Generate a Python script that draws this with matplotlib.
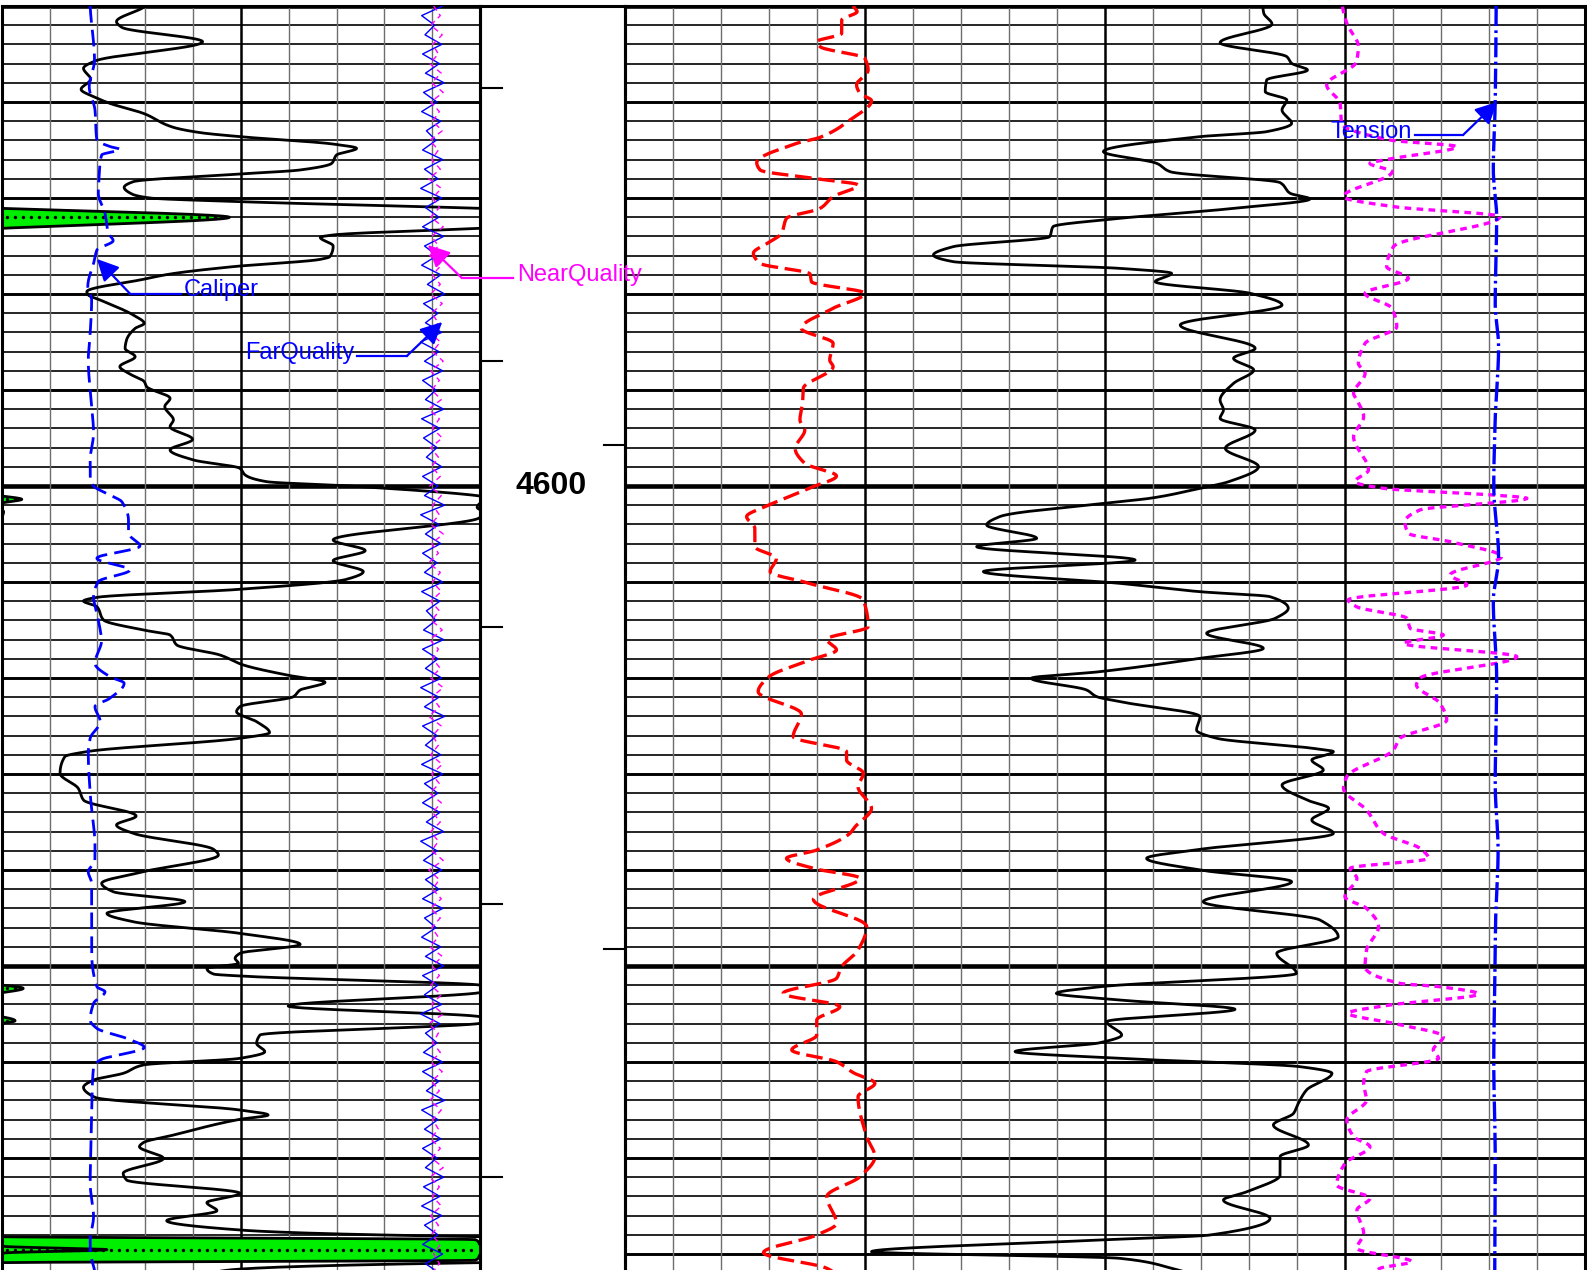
import numpy as np
import matplotlib
matplotlib.use('Agg')
import matplotlib.pyplot as plt

plt.rcParams['font.family'] = ['Liberation Sans', 'DejaVu Sans']

TOP = 4550.0
BOTTOM = 4550.0 + 1264 / 9.6

# ---------------- Left track: GR (0-100, wraps), Caliper (6-16 in), Quality (0-10)
gr_depth = [4550.00, 4551.63, 4552.22, 4553.72, 4555.73, 4556.49, 4557.64, 4558.68, 4559.51, 4560.14,
            4561.18, 4562.64, 4563.19, 4563.61, 4564.38, 4564.83, 4565.52, 4566.39, 4567.08, 4567.50,
            4568.30, 4568.89, 4569.58, 4570.00, 4570.38, 4571.08, 4572.01, 4573.16, 4573.85, 4574.10,
            4575.00, 4576.11, 4576.39, 4577.15, 4577.92, 4578.47, 4579.76, 4580.10, 4580.63, 4582.19,
            4583.06, 4583.58, 4584.79, 4585.66, 4586.53, 4587.57, 4588.26, 4589.13, 4589.65, 4590.87,
            4591.73, 4593.12, 4593.82, 4595.14, 4596.25, 4597.29, 4598.16, 4598.85, 4599.55, 4600.00,
            4601.04, 4601.39, 4601.80, 4602.22, 4602.67, 4603.26, 4605.62, 4606.73, 4607.78, 4608.92,
            4609.72, 4610.76, 4611.60, 4611.98, 4612.57, 4613.96, 4615.00, 4615.52, 4616.56, 4617.60,
            4618.64, 4619.69, 4620.45, 4621.25, 4621.94, 4622.98, 4623.51, 4624.55, 4625.69, 4626.28,
            4627.67, 4628.19, 4629.93, 4631.49, 4632.71, 4634.38, 4635.31, 4636.18, 4637.85, 4638.44,
            4640.18, 4641.39, 4642.26, 4643.30, 4644.52, 4645.39, 4646.60, 4647.75, 4648.68, 4649.20,
            4649.73, 4650.25, 4650.84, 4651.04, 4651.98, 4652.33, 4652.78, 4654.17, 4655.28, 4655.70,
            4655.98, 4657.19, 4658.06, 4658.93, 4659.62, 4660.31, 4661.18, 4661.88, 4662.64, 4663.68,
            4665.00, 4665.52, 4665.97, 4667.61, 4668.40, 4668.82, 4670.04, 4671.60, 4672.29, 4673.68,
            4674.65, 4675.49, 4676.53, 4677.50, 4678.20, 4678.50, 4679.20, 4679.55, 4679.90, 4680.65,
            4680.90, 4681.70, 4682.50]
gr = [30.0, 24.0, 25.1, 42.0, 19.5, 17.1, 18.6, 16.6, 19.5, 22.6,
      29.6, 35.9, 41.5, 49.8, 69.3, 74.2, 70.0, 69.0, 62.4, 49.8,
      27.5, 25.6, 27.2, 31.0, 49.8, 100.0, 147.6, 100.0, 69.3, 66.6,
      69.3, 68.6, 66.6, 48.4, 35.2, 29.6, 17.8, 18.1, 20.6, 27.5,
      29.8, 27.9, 26.1, 25.8, 27.9, 24.7, 26.5, 29.8, 30.3, 35.2,
      34.1, 35.9, 35.2, 39.9, 35.2, 40.1, 49.8, 50.9, 55.4, 72.8,
      100.0, 104.2, 100.0, 99.4, 100.4, 100.0, 69.3, 76.0, 69.3, 75.6,
      72.1, 49.8, 19.9, 17.1, 19.9, 21.3, 29.6, 35.2, 36.6, 45.6,
      50.5, 59.6, 67.6, 62.4, 61.0, 49.8, 49.1, 53.3, 56.0, 49.8,
      17.8, 13.2, 12.2, 16.0, 17.1, 28.1, 24.0, 27.5, 44.3, 45.3,
      29.6, 20.9, 23.3, 38.3, 22.0, 27.5, 49.8, 62.4, 49.8, 48.8,
      49.5, 42.9, 44.3, 49.8, 100.0, 104.5, 100.0, 59.9, 100.0, 102.8,
      100.0, 54.0, 53.3, 55.0, 49.8, 29.6, 25.4, 19.2, 17.1, 19.5,
      49.8, 55.7, 49.8, 35.9, 29.6, 28.8, 33.8, 25.4, 26.1, 49.8,
      42.9, 45.0, 34.5, 49.8, 100.0, 199.0, 200.5, 222.0, 200.5, 199.0,
      100.0, 47.0, 40.0]

cali_depth = [4550.00, 4555.63, 4558.40, 4560.83, 4563.96, 4564.65, 4564.93, 4565.52, 4567.43, 4569.51,
              4571.60, 4573.68, 4574.44, 4575.42, 4576.46, 4579.24, 4580.63, 4584.10, 4586.88, 4590.69,
              4594.51, 4597.29, 4599.37, 4600.00, 4600.94, 4601.63, 4603.54, 4604.93, 4606.25, 4607.53,
              4608.75, 4609.96, 4611.53, 4613.26, 4615.00, 4616.04, 4618.47, 4619.86, 4620.55, 4622.12,
              4622.98, 4624.55, 4626.28, 4627.85, 4632.01, 4637.57, 4638.96, 4640.18, 4641.39, 4648.34,
              4652.16, 4652.68, 4653.89, 4655.63, 4656.50, 4657.54, 4658.48, 4659.79, 4660.49, 4665.70,
              4672.64, 4676.11, 4678.54, 4679.59, 4682.00]
cali = [7.85, 7.94, 7.83, 7.95, 7.99, 8.27, 8.47, 8.09, 8.04, 8.02,
        8.16, 8.23, 8.33, 7.99, 7.94, 7.80, 7.88, 7.85, 7.81, 7.86,
        7.92, 7.85, 7.85, 7.92, 8.26, 8.51, 8.65, 8.65, 8.89, 7.99,
        8.68, 8.02, 7.92, 7.99, 8.06, 8.09, 7.95, 8.26, 8.56, 8.26,
        7.95, 8.06, 7.85, 7.81, 7.85, 7.95, 7.95, 7.81, 7.88, 7.88,
        7.99, 8.16, 7.92, 7.85, 7.99, 8.61, 8.98, 8.06, 7.92, 7.88,
        7.85, 7.92, 7.85, 7.85, 7.95]

qual_depth = list(range(4550, 4683))
far_quality = [9.22, 8.78, 9.05, 8.85, 9.20, 8.80, 9.15, 8.86, 9.25, 8.82,
               9.10, 8.78, 9.18, 8.88, 9.08, 8.80, 9.22, 8.84, 9.12, 8.76,
               9.20, 8.86, 9.14, 8.80, 9.24, 8.84, 9.10, 8.78, 9.18, 8.90,
               9.26, 8.82, 9.12, 8.86, 9.20, 8.76, 9.14, 8.84, 9.22, 8.80,
               9.08, 8.86, 9.24, 8.78, 9.16, 8.82, 9.10, 8.88, 9.20, 8.80,
               9.12, 8.84, 9.26, 8.76, 9.14, 8.86, 9.18, 8.80, 9.10, 8.84,
               9.22, 8.78, 9.16, 8.88, 9.08, 8.82, 9.24, 8.80, 9.12, 8.86,
               9.20, 8.76, 9.14, 8.84, 9.26, 8.80, 9.10, 8.86, 9.18, 8.78,
               9.22, 8.84, 9.12, 8.80, 9.16, 8.88, 9.24, 8.76, 9.10, 8.82,
               9.20, 8.86, 9.14, 8.80, 9.22, 8.84, 9.08, 8.78, 9.18, 8.86,
               9.24, 8.80, 9.12, 8.84, 9.20, 8.76, 9.16, 8.86, 9.10, 8.82,
               9.22, 8.80, 9.14, 8.88, 9.26, 8.78, 9.12, 8.84, 9.18, 8.80,
               9.10, 8.86, 9.24, 8.82, 9.16, 8.78, 9.20, 8.84, 9.12, 8.80,
               9.22, 8.86, 9.15]
near_quality = [9.00, 9.14, 8.94, 9.18, 8.98, 9.10, 8.92, 9.16, 8.96, 9.20,
                8.94, 9.12, 8.98, 9.18, 8.92, 9.10, 8.96, 9.14, 8.90, 9.16,
                8.98, 9.12, 8.94, 9.20, 8.96, 9.10, 8.92, 9.16, 8.98, 9.14,
                8.94, 9.18, 8.96, 9.10, 8.92, 9.14, 8.98, 9.20, 8.94, 9.12,
                8.96, 9.16, 8.90, 9.12, 8.98, 9.18, 8.94, 9.10, 8.96, 9.14,
                8.92, 9.16, 8.98, 9.12, 8.94, 9.20, 8.96, 9.10, 8.90, 9.14,
                8.98, 9.16, 8.94, 9.12, 8.96, 9.18, 8.92, 9.10, 8.98, 9.14,
                8.94, 9.20, 8.96, 9.12, 8.90, 9.16, 8.98, 9.10, 8.94, 9.18,
                8.96, 9.12, 8.92, 9.16, 8.98, 9.14, 8.94, 9.10, 8.96, 9.20,
                8.90, 9.12, 8.98, 9.16, 8.94, 9.14, 8.96, 9.10, 8.92, 9.18,
                8.98, 9.12, 8.94, 9.16, 8.96, 9.20, 8.90, 9.10, 8.98, 9.14,
                8.94, 9.18, 8.96, 9.12, 8.92, 9.16, 8.98, 9.10, 8.94, 9.14,
                8.96, 9.20, 8.92, 9.12, 8.98, 9.16, 8.94, 9.10, 8.96, 9.14,
                9.00, 9.12, 8.96]

# ---------------- Right track (0-200 scale)
red_depth = [4550.00, 4550.59, 4551.46, 4552.85, 4553.72, 4554.24, 4555.45, 4556.67, 4558.23, 4559.10,
             4559.86, 4561.88, 4563.68, 4564.31, 4566.32, 4567.08, 4567.95, 4568.65, 4569.86, 4571.08,
             4572.12, 4573.68, 4574.55, 4575.76, 4576.81, 4577.92, 4578.72, 4579.93, 4581.49, 4583.58,
             4585.14, 4586.88, 4587.57, 4589.83, 4591.04, 4593.12, 4594.17, 4596.08, 4597.64, 4598.96,
             4600.14, 4602.08, 4603.19, 4604.41, 4606.32, 4607.53, 4608.92, 4610.07, 4611.87, 4614.65,
             4615.97, 4617.08, 4618.12, 4619.93, 4621.42, 4623.75, 4626.11, 4627.67, 4628.54, 4629.93,
             4631.32, 4633.58, 4635.49, 4636.18, 4637.92, 4638.79, 4639.83, 4640.87, 4643.06, 4645.91,
             4648.34, 4650.07, 4651.29, 4652.85, 4654.24, 4655.63, 4657.19, 4658.75, 4659.97, 4661.11,
             4662.22, 4663.61, 4667.78, 4669.86, 4671.95, 4674.03, 4676.81, 4678.02, 4679.86, 4681.49,
             4682.50]
red = [47.6, 48.4, 45.2, 45.2, 40.0, 40.7, 50.0, 50.7, 48.3, 49.0,
       51.4, 46.9, 40.7, 35.8, 27.5, 28.2, 39.3, 48.6, 43.4, 40.7,
       33.7, 32.7, 30.3, 26.8, 28.2, 38.6, 38.9, 50.0, 43.4, 36.8,
       43.4, 42.7, 43.4, 37.2, 37.1, 36.5, 37.5, 35.5, 37.5, 44.1,
       38.9, 29.6, 25.4, 27.1, 27.1, 31.6, 30.3, 37.9, 49.7, 50.7,
       42.1, 44.1, 38.6, 29.9, 27.8, 36.8, 35.1, 46.2, 46.2, 49.7,
       48.6, 51.4, 48.0, 46.9, 40.0, 33.7, 39.3, 49.0, 39.3, 50.4,
       48.6, 45.2, 44.1, 33.0, 44.8, 40.0, 40.0, 34.8, 44.1, 47.6,
       52.1, 48.6, 50.4, 52.1, 49.0, 42.1, 44.1, 40.0, 28.9, 42.1,
       45.0]

blk_depth = [4550.07, 4550.76, 4551.88, 4553.82, 4555.28, 4555.97, 4556.67, 4557.71, 4558.92, 4559.79,
             4560.83, 4562.22, 4563.09, 4563.61, 4565.17, 4566.39, 4567.26, 4568.40, 4569.51, 4570.10,
             4571.08, 4572.12, 4572.99, 4574.03, 4575.07, 4575.94, 4576.63, 4577.33, 4577.85, 4578.72,
             4579.93, 4581.15, 4583.23, 4585.66, 4586.70, 4587.92, 4589.31, 4591.04, 4592.08, 4592.95,
             4594.17, 4596.08, 4597.99, 4599.55, 4600.24, 4601.28, 4601.63, 4603.19, 4604.06, 4605.45,
             4606.32, 4607.71, 4608.92, 4610.14, 4611.01, 4611.53, 4612.74, 4613.78, 4615.35, 4616.91,
             4617.95, 4619.34, 4620.03, 4621.25, 4621.94, 4622.46, 4624.03, 4625.42, 4626.28, 4627.33,
             4627.67, 4628.54, 4629.58, 4631.15, 4632.71, 4633.58, 4634.79, 4636.18, 4637.85, 4638.79,
             4640.00, 4641.22, 4643.30, 4645.21, 4646.95, 4648.68, 4650.77, 4652.16, 4652.85, 4653.54,
             4654.51, 4655.80, 4657.19, 4657.99, 4658.92, 4659.62, 4660.49, 4661.18, 4662.92, 4664.31,
             4665.35, 4666.56, 4668.65, 4669.86, 4671.77, 4673.51, 4674.38, 4676.29, 4678.02, 4678.54,
             4679.76, 4680.45, 4681.49, 4682.50]
blk = [132.9, 133.1, 134.8, 124.0, 137.9, 138.9, 142.2, 133.7, 133.4, 137.9,
       136.9, 138.9, 133.7, 119.8, 99.7, 110.8, 113.6, 136.5, 138.6, 142.7,
       126.8, 103.1, 89.2, 88.5, 68.4, 64.3, 68.4, 103.1, 113.9, 110.5,
       130.3, 136.9, 115.7, 131.3, 126.8, 131.0, 126.8, 124.0, 124.7, 124.0,
       131.3, 125.1, 132.0, 125.8, 119.8, 109.4, 103.1, 78.1, 75.4, 85.8,
       73.3, 106.3, 74.7, 103.1, 119.8, 134.4, 138.2, 135.5, 121.2, 133.0,
       119.8, 99.0, 84.7, 96.2, 98.3, 103.1, 119.8, 119.1, 123.3, 143.4,
       147.6, 143.1, 145.5, 136.9, 142.1, 146.6, 143.1, 147.6, 119.8, 108.7,
       119.8, 138.9, 120.5, 144.8, 148.6, 135.8, 139.9, 99.0, 89.9, 103.1,
       127.1, 100.4, 103.5, 99.0, 81.3, 103.1, 140.7, 147.3, 142.0, 140.3,
       139.3, 135.1, 142.4, 136.5, 136.5, 129.6, 124.7, 134.4, 121.9, 99.0,
       51.4, 103.1, 113.9, 120.0]

mag_depth = [4550.07, 4551.81, 4554.24, 4555.80, 4558.23, 4560.14, 4562.22, 4563.96, 4564.65, 4565.87,
             4566.39, 4567.26, 4569.86, 4570.90, 4571.94, 4575.07, 4577.15, 4578.37, 4579.93, 4581.49,
             4583.40, 4585.14, 4587.22, 4588.26, 4590.35, 4591.04, 4592.78, 4594.86, 4598.33, 4599.55,
             4600.24, 4600.94, 4601.28, 4602.50, 4603.71, 4604.93, 4605.80, 4607.36, 4609.27, 4610.31,
             4611.87, 4612.57, 4613.78, 4614.83, 4615.52, 4616.39, 4617.78, 4620.03, 4620.73, 4622.64,
             4624.38, 4626.28, 4627.50, 4630.28, 4631.49, 4633.75, 4636.18, 4637.74, 4638.79, 4639.83,
             4640.87, 4642.78, 4644.00, 4645.91, 4648.34, 4650.07, 4651.81, 4652.16, 4652.92, 4654.06,
             4654.93, 4655.97, 4657.36, 4658.75, 4659.62, 4661.01, 4662.22, 4663.96, 4666.04, 4667.78,
             4668.82, 4670.56, 4672.81, 4674.20, 4675.42, 4677.85, 4679.41, 4680.80, 4681.49, 4682.50]
mag = [149.5, 150.4, 152.8, 152.4, 146.2, 149.0, 149.3, 159.4, 173.3, 160.1,
       155.2, 159.8, 149.7, 160.1, 182.3, 160.1, 158.7, 163.2, 154.2, 159.8,
       160.8, 154.2, 152.8, 154.2, 151.8, 152.5, 153.9, 151.8, 154.9, 152.1,
       158.0, 180.9, 187.9, 165.6, 162.5, 163.2, 171.9, 182.6, 171.9, 175.4,
       150.7, 152.4, 162.9, 163.6, 170.5, 162.2, 185.8, 165.6, 164.9, 169.8,
       171.2, 161.5, 160.1, 150.4, 149.7, 154.5, 158.0, 165.6, 167.4, 151.1,
       152.5, 150.0, 154.5, 157.0, 154.5, 154.2, 161.5, 169.8, 177.8, 159.4,
       150.7, 160.1, 170.5, 168.4, 169.5, 154.5, 153.9, 154.5, 150.4, 151.8,
       155.2, 150.0, 148.3, 155.2, 152.5, 153.9, 152.5, 163.9, 157.3, 155.0]

tens_depth = [4550, 4560, 4567, 4572, 4581, 4585.5, 4593, 4600, 4607.4, 4612,
              4620, 4631, 4638, 4645, 4652, 4660, 4670, 4682.5]
tension = [181.5, 181.3, 180.9, 181.6, 181.3, 182.0, 181.3, 181.0, 182.0, 180.9,
           181.6, 181.3, 181.9, 181.4, 181.2, 181.0, 181.3, 181.2]

# depth-track marks
marks_left = [4558.54, 4586.98, 4614.69, 4643.54, 4671.98]
marks_right = [4595.73, 4648.23]

BLUE = '#0000FF'
MAGENTA = '#FF00FF'
RED = '#FF0000'
GREEN = '#00EE00'


def pchip(x, y, xn):
    """Monotone piecewise-cubic (Fritsch-Carlson) evaluation for smooth curve rendering."""
    x = np.asarray(x, float)
    y = np.asarray(y, float)
    h = np.diff(x)
    delta = np.diff(y) / h
    d = np.zeros_like(y)
    for k in range(1, len(x) - 1):
        if delta[k - 1] * delta[k] > 0:
            w1 = 2 * h[k] + h[k - 1]
            w2 = h[k] + 2 * h[k - 1]
            d[k] = (w1 + w2) / (w1 / delta[k - 1] + w2 / delta[k])
    d[0] = delta[0] * 0.5
    d[-1] = delta[-1] * 0.5
    idx = np.clip(np.searchsorted(x, xn) - 1, 0, len(x) - 2)
    t = (xn - x[idx]) / h[idx]
    h00 = 2 * t ** 3 - 3 * t ** 2 + 1
    h10 = t ** 3 - 2 * t ** 2 + t
    h01 = -2 * t ** 3 + 3 * t ** 2
    h11 = t ** 3 - t ** 2
    return h00 * y[idx] + h10 * h[idx] * d[idx] + h01 * y[idx + 1] + h11 * h[idx] * d[idx + 1]


def smooth(depth, vals, step=0.01):
    dn = np.arange(depth[0], depth[-1], step)
    return dn, pchip(depth, vals, dn)


fig = plt.figure(figsize=(15.87, 12.70), dpi=100)
fig.patch.set_facecolor('white')
H = 1264 / 1270
ax_l = fig.add_axes([1.7 / 1587, 0, 478.3 / 1587, H])
ax_d = fig.add_axes([480.0 / 1587, 0, 144.7 / 1587, H])
ax_r = fig.add_axes([624.7 / 1587, 0, 960.3 / 1587, H])
for a in (ax_l, ax_d, ax_r):
    a.patch.set_visible(False)
ax_l.set_zorder(3)


def frame(ax, width):
    ax.set_xlim(0, width)
    ax.set_ylim(BOTTOM, TOP)
    ax.set_xticks([])
    ax.set_yticks([])
    for s in ('left', 'right', 'top'):
        ax.spines[s].set_linewidth(2.2)
        ax.spines[s].set_color('black')
    ax.spines['bottom'].set_visible(False)


def grid(ax, ndiv, width):
    frame(ax, width)
    for d in np.arange(4550, 4684, 2):
        if d % 50 == 0:
            lw = 3.3
        elif d % 10 == 0:
            lw = 2.1
        else:
            lw = 1.2
        ax.axhline(d, color='black', lw=lw, zorder=1)
    step = width / ndiv
    for i in range(1, ndiv):
        if i % 5 == 0:
            ax.axvline(i * step, color='black', lw=1.8, zorder=1)
        else:
            ax.axvline(i * step, color='#6e6e6e', lw=1.0, zorder=1)


grid(ax_l, 10, 100)
grid(ax_r, 20, 200)
frame(ax_d, 1)

# ---------- left track curves
dfine, grf = smooth(gr_depth, gr)
ax_l.fill_betweenx(dfine, 0, np.clip(grf - 100, 0, 100), color=GREEN, lw=0, zorder=2)
ax_l.fill_betweenx(dfine, 0, np.clip(grf - 200, 0, 100), color=GREEN, lw=0, zorder=2)
# dot pattern along the crest of each wrapped section
w = grf - 100
m = (w > 0).astype(int)
edges = np.flatnonzero(np.diff(np.r_[0, m, 0]))
for s, e in zip(edges[::2], edges[1::2]):
    k = s + int(np.argmax(w[s:e]))
    ext = min(w[k], 100)
    xs = np.arange(1.2, ext - 1.0, 1.67)
    if len(xs):
        ax_l.scatter(xs, np.full(len(xs), dfine[k]), s=6, color='black', lw=0, zorder=4)

for off in (0, 100, 200):
    ax_l.plot(grf - off, dfine, color='black', lw=2.0, zorder=5)

cd, cv = smooth(cali_depth, cali)
ax_l.plot((cv - 6.0) * 10, cd, color=BLUE, lw=2.0, ls=(0, (6, 2.6)), zorder=5)

ax_l.plot(np.array(far_quality) * 10, qual_depth, color=BLUE, lw=1.0, zorder=5)
ax_l.plot(np.array(near_quality) * 10 + 0.3, qual_depth, color=MAGENTA, lw=1.0,
          ls=(0, (4, 3)), zorder=5)

# ---------- right track curves
rd, rv = smooth(red_depth, red)
ax_r.plot(rv, rd, color=RED, lw=2.4, ls=(0, (5, 2)), zorder=5)
bd, bv = smooth(blk_depth, blk)
ax_r.plot(bv, bd, color='black', lw=2.0, zorder=5)
md, mv = smooth(mag_depth, mag)
ax_r.plot(mv, md, color=MAGENTA, lw=2.4, ls=(0, (2, 1.6)), zorder=5)
td, tv = smooth(tens_depth, tension)
ax_r.plot(tv, td, color=BLUE, lw=2.4, ls=(0, (6, 1.3, 0.8, 1.3)), zorder=5)

# ---------- depth track
for d in marks_left:
    ax_d.plot([0, 0.153], [d, d], color='black', lw=1.5)
for d in marks_right:
    ax_d.plot([0.854, 1.0], [d, d], color='black', lw=1.5)
for d in range(4600, int(BOTTOM) + 1, 100):
    ax_d.text(0.49, d, str(d), ha='center', va='center', fontsize=23, fontweight='bold',
              color='black')

# ---------- annotations
ARROW = '-|>,head_length=0.6,head_width=0.3'


def label(ax, text, color, tx, ty, ha, line, tip):
    ax.text(tx, ty, text, color=color, fontsize=17, ha=ha, va='center', zorder=8, clip_on=False)
    ax.plot(line[0], line[1], color=color, lw=1.6, zorder=8, clip_on=False)
    ax.annotate('', xy=tip, xytext=(line[0][-1], line[1][-1]),
                arrowprops=dict(arrowstyle=ARROW, color=color, lw=1.6, mutation_scale=22,
                                shrinkA=0, shrinkB=0), zorder=8, annotation_clip=False)


label(ax_l, 'Caliper', BLUE, 38.0, 4579.55, 'left',
      ([37.4, 26.8], [4579.95, 4579.95]), (19.9, 4576.35))
label(ax_l, 'FarQuality', BLUE, 73.8, 4586.1, 'right',
      ([74.3, 84.7], [4586.46, 4586.46]), (92.1, 4582.92))
label(ax_l, 'NearQuality', MAGENTA, 107.7, 4578.0, 'left',
      ([106.9, 96.2], [4578.33, 4578.33]), (89.1, 4574.9))
label(ax_r, 'Tension', BLUE, 164.0, 4563.1, 'right',
      ([164.6, 174.6], [4563.44, 4563.44]), (181.7, 4560.0))

fig.savefig('out.png', dpi=100, facecolor='white')
